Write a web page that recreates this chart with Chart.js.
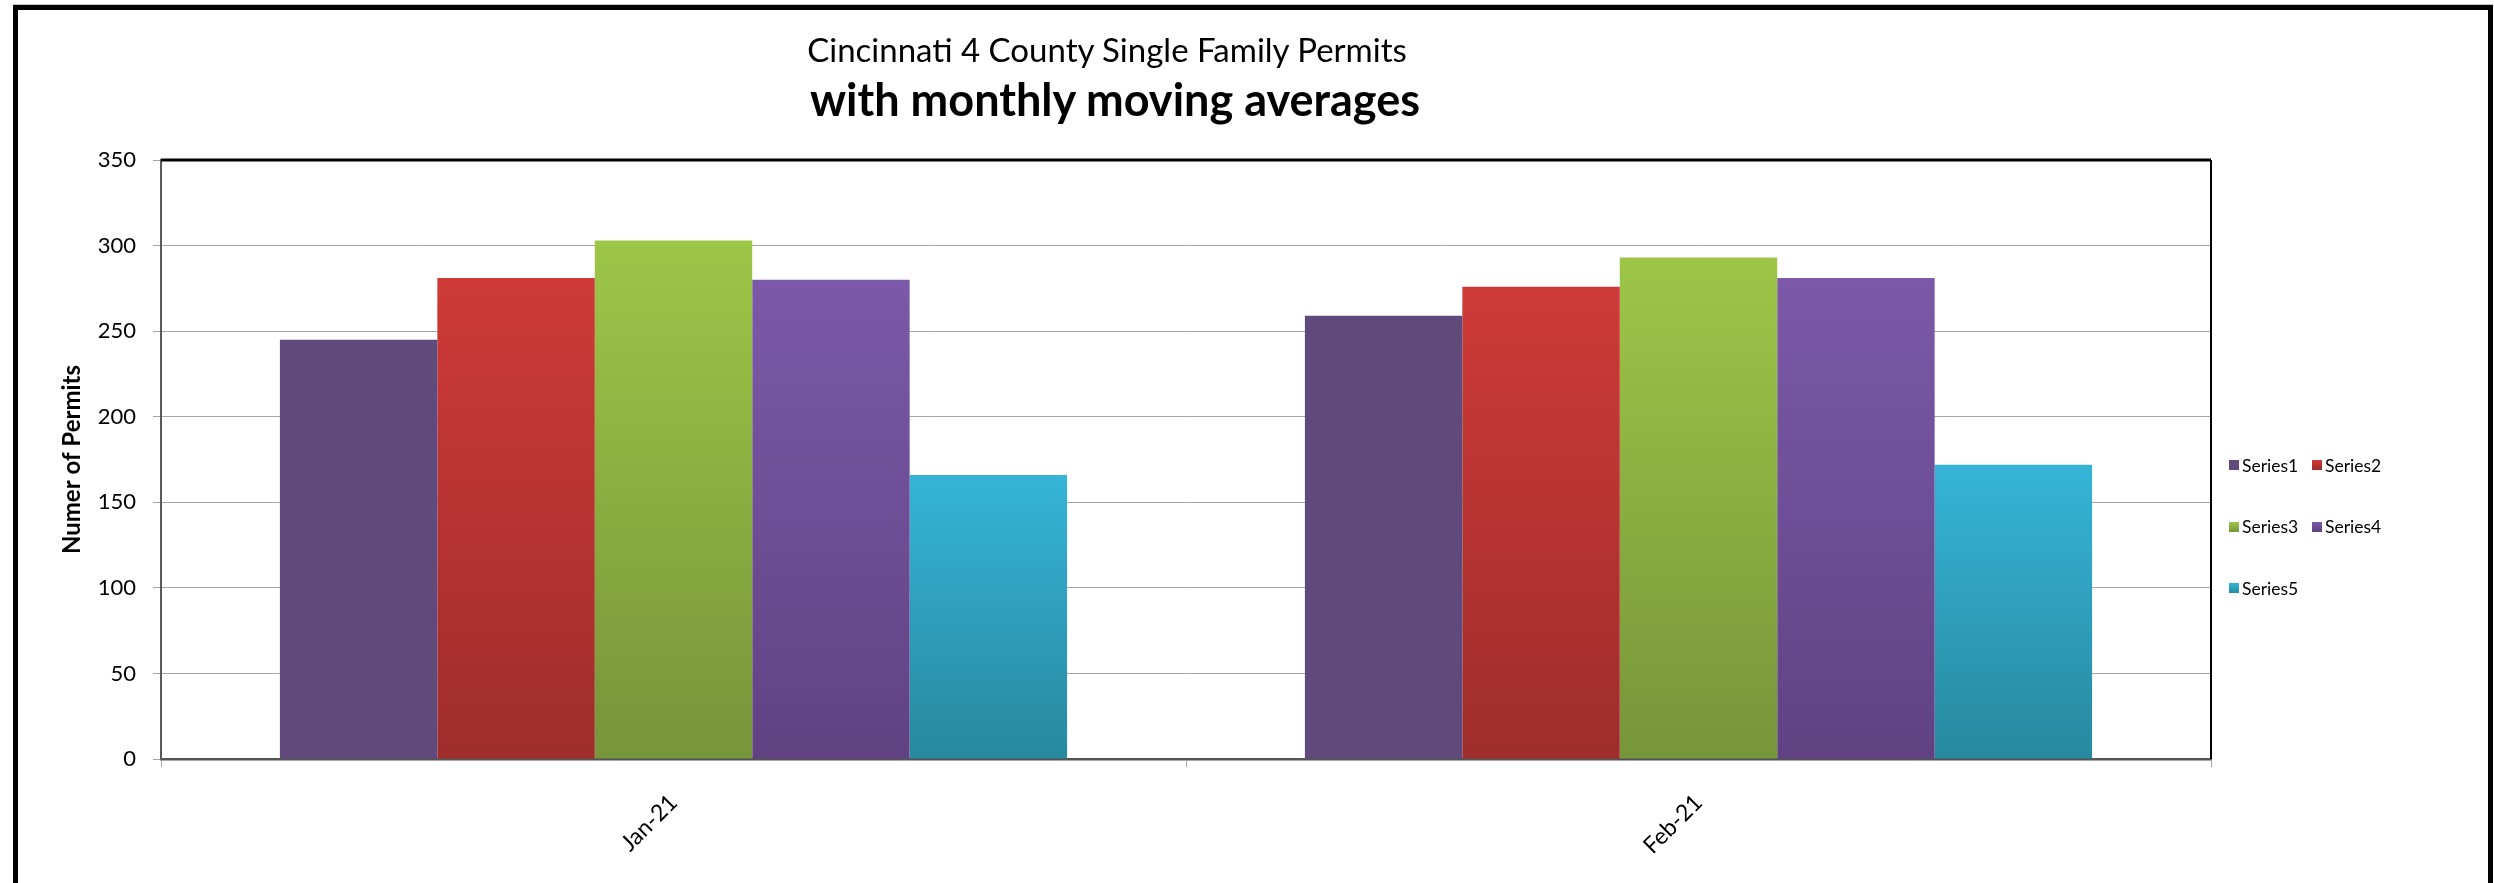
<!DOCTYPE html>
<html lang="en">
<head>
<meta charset="utf-8">
<title>Cincinnati 4 County Single Family Permits</title>
<script src="https://cdn.jsdelivr.net/npm/chart.js@4.4.1/dist/chart.umd.min.js"></script>
<style>
  body { margin: 0; background: #fff; }
  #contenedor { position: relative; width: 2494px; height: 883px; overflow: hidden; font-family: Lato, sans-serif; background: #fff; }
  #grafico { position: absolute; left: 0; top: 0; }
  #marco { position: absolute; left: 13px; top: 5px; width: 2480px; height: 900px; box-sizing: border-box;
           border: 5px solid #000; border-bottom: none; box-shadow: 0 -1px 0 #c8c8c8; pointer-events: none; }
  .titulo { position: absolute; width: 1200px; text-align: center; color: #000; white-space: nowrap; line-height: 1; }
  #titulo1 { left: 507px; top: 33px; font-size: 33px; }
  #titulo2 { left: 515px; top: 77px; font-size: 45px; font-weight: bold; }
  #leyenda .item { position: absolute; display: flex; align-items: center; height: 22px; font-size: 17.5px; color: #000; white-space: nowrap; }
  #leyenda .caja { width: 10px; height: 10px; margin-right: 3px; }
</style>
</head>
<body>
<div id="contenedor">
  <canvas id="grafico" width="2494" height="883"></canvas>
  <div id="marco"></div>
  <div class="titulo" id="titulo1">Cincinnati 4 County Single Family Permits</div>
  <div class="titulo" id="titulo2">with monthly moving averages</div>
  <div id="leyenda"></div>
</div>
<script>
// datos
const etiquetas = ['Jan-21', 'Feb-21'];
const nombres = ['Series1', 'Series2', 'Series3', 'Series4', 'Series5'];
const series1 = [245, 259];
const series2 = [281, 276];
const series3 = [303, 293];
const series4 = [280, 281];
const series5 = [166, 172];
const ticksY = [0, 50, 100, 150, 200, 250, 300, 350];

// colores (arriba -> abajo de cada barra)
const coloresArriba = ['#604a7b', '#ce3a37', '#9dc648', '#7b59a8', '#36b4d6'];
const coloresAbajo = ['#604a7b', '#9e2d2b', '#77953a', '#604283', '#27899f'];

function degradado(i) {
  return function (c) {
    const chart = c.chart;
    const y = chart.scales.y;
    if (!chart.chartArea || !y || c.raw == null) return coloresArriba[i];
    const arriba = y.getPixelForValue(c.raw);
    const abajo = y.getPixelForValue(0);
    const g = chart.ctx.createLinearGradient(0, arriba, 0, abajo);
    g.addColorStop(0, coloresArriba[i]);
    g.addColorStop(1, coloresAbajo[i]);
    return g;
  };
}

// borde superior y derecho del area del grafico
const bordePlot = {
  id: 'bordePlot',
  afterDatasetsDraw(chart) {
    const ctx = chart.ctx;
    const a = chart.chartArea;
    ctx.save();
    ctx.strokeStyle = '#000';
    ctx.lineWidth = 3;
    ctx.beginPath();
    ctx.moveTo(a.left, a.top);
    ctx.lineTo(a.right, a.top);
    ctx.stroke();
    ctx.lineWidth = 2;
    ctx.beginPath();
    ctx.moveTo(a.right, a.top);
    ctx.lineTo(a.right, a.bottom);
    ctx.stroke();
    ctx.restore();
  }
};

const valores = [series1, series2, series3, series4, series5];

const ctxGrafico = document.getElementById('grafico').getContext('2d');
const grafico = new Chart(ctxGrafico, {
  type: 'bar',
  data: {
    labels: etiquetas,
    datasets: valores.map(function (serie, i) {
      return {
        label: nombres[i],
        data: serie,
        backgroundColor: degradado(i),
        borderWidth: 0
      };
    })
  },
  options: {
    responsive: false,
    animation: false,
    layout: { padding: { top: 160, left: 20, right: 283, bottom: 0 } },
    datasets: { bar: { categoryPercentage: 0.768, barPercentage: 1 } },
    plugins: {
      legend: { display: false },
      title: { display: false },
      tooltip: { enabled: false }
    },
    scales: {
      x: {
        grid: { display: true, drawOnChartArea: false, tickLength: 8, tickColor: '#a6a6a6', offset: true },
        border: { color: '#555555', width: 2.5 },
        ticks: {
          color: '#000',
          font: { family: 'Lato', size: 23 },
          minRotation: 45,
          maxRotation: 45,
          padding: 22,
          autoSkip: false
        },
        afterFit: function (s) { s.height = 124; }
      },
      y: {
        min: 0,
        max: 350,
        afterBuildTicks: function (s) { s.ticks = ticksY.map(function (v) { return { value: v }; }); },
        grid: { color: '#a6a6a6', tickLength: 8, tickColor: '#a6a6a6' },
        border: { color: '#595959', width: 2 },
        ticks: { color: '#000', font: { family: 'Lato', size: 22 }, padding: 17 },
        title: {
          display: true,
          text: 'Numer of Permits',
          color: '#000',
          font: { family: 'Lato', size: 24, weight: 'bold' },
          padding: { top: 38, bottom: 0 }
        },
        afterFit: function (s) { s.width = 141; }
      }
    }
  },
  plugins: [bordePlot]
});

// leyenda en dos columnas como en Excel
const leyenda = document.getElementById('leyenda');
grafico.data.datasets.forEach(function (ds, i) {
  const fila = Math.floor(i / 2);
  const col = i % 2;
  const item = document.createElement('div');
  item.className = 'item';
  item.style.left = (2229 + col * 83) + 'px';
  item.style.top = (454 + fila * 61.5) + 'px';
  item.innerHTML = '<span class="caja" style="background:linear-gradient(' +
    coloresArriba[i] + ',' + coloresAbajo[i] + ')"></span>' + ds.label;
  leyenda.appendChild(item);
});
</script>
</body>
</html>
